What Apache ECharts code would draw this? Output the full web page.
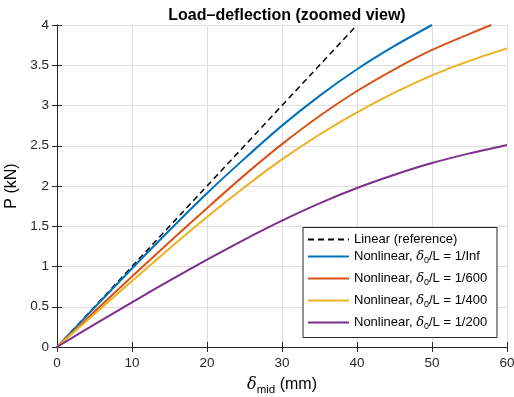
<!DOCTYPE html>
<html><head><meta charset="utf-8">
<script src="https://cdn.jsdelivr.net/npm/echarts@6/dist/echarts.min.js"></script>
<style>html,body{margin:0;padding:0;background:#fff}#c{width:514px;height:397px}</style>
</head><body><div id="c"></div>
<script>
const xs = [0,5,10,15,20,25,30,35,40,45,50,55,60];
const linearX = [0,40];
const linearY = [0,4];
const infY   = [0,0.49,0.975,1.45,1.91,2.34,2.75,3.12,3.45,3.74,4.00];
const r600X  = [0,5,10,15,20,25,30,35,40,45,50,55,57.9];
const r600Y  = [0,0.44,0.875,1.305,1.725,2.135,2.52,2.87,3.18,3.45,3.69,3.89,4.00];
const r400Y  = [0,0.41,0.82,1.225,1.615,1.985,2.33,2.64,2.915,3.16,3.375,3.555,3.71];
const r200Y  = [0,0.28,0.555,0.825,1.085,1.335,1.57,1.785,1.975,2.14,2.285,2.405,2.51];
const xTicks = [0,10,20,30,40,50,60];
const yTicks = [0,0.5,1,1.5,2,2.5,3,3.5,4];
const names = ['Linear (reference)','Nonlinear, δ0/L = 1/Inf','Nonlinear, δ0/L = 1/600','Nonlinear, δ0/L = 1/400','Nonlinear, δ0/L = 1/200'];
const colors = ['#000000','#0072BD','#D95319','#EDB120','#7E2F8E'];

const pair = (X, Y) => Y.map((v,i)=>[X[i], v]);
const FONT = 'Liberation Sans';
const axisColor = '#262626';
const rich = {
  d:{fontFamily:'DejaVu Serif', fontStyle:'italic', fontSize:13, color:'#000'},
  s:{fontFamily:FONT, fontSize:9, color:'#000', padding:[9,0,0,0]},
  t:{fontFamily:FONT, fontSize:13, color:'#000'}
};
const richBig = {
  d:{fontFamily:'DejaVu Serif', fontStyle:'italic', fontSize:16, color:'#000'},
  s:{fontFamily:FONT, fontSize:11.5, color:'#000', padding:[11,0,0,0]},
  t:{fontFamily:FONT, fontSize:16, color:'#000'}
};
function fmt(n){
  const m = n.match(/^(.*)δ0(.*)$/);
  if(!m) return '{t|'+n+'}';
  return '{t|'+m[1]+'}{d|δ}{s|0}{t|'+m[2]+'}';
}
const rowsTop = [233, 250, 272, 294, 316];
const legends = names.map((n,i)=>({
  data:[n], left:307, top:rowsTop[i], padding:0, itemWidth:41, itemHeight:14, itemGap:4,
  itemStyle:{color:'rgba(0,0,0,0)', borderColor:'rgba(0,0,0,0)', borderWidth:0, opacity:0},
  formatter: fmt, textStyle:{rich:rich, fontFamily:FONT, fontSize:13, color:'#000'}, z:10
}));

const baseAxis = {
  axisLine:{show:true, lineStyle:{color:axisColor, width:1}},
  axisTick:{show:true, inside:true, length:5, lineStyle:{color:axisColor}},
};
const series = [
  {name:names[0], type:'line', data:pair(linearX,linearY), symbol:'none', lineStyle:{color:colors[0], width:1.5, type:[6,4]}, itemStyle:{color:colors[0]}},
  {name:names[1], type:'line', data:pair(xs,infY), smooth:0.3, symbol:'none', lineStyle:{color:colors[1], width:2}, itemStyle:{color:colors[1]}},
  {name:names[2], type:'line', data:pair(r600X,r600Y), smooth:0.3, symbol:'none', lineStyle:{color:colors[2], width:2}, itemStyle:{color:colors[2]}},
  {name:names[3], type:'line', data:pair(xs,r400Y), smooth:0.3, symbol:'none', lineStyle:{color:colors[3], width:2}, itemStyle:{color:colors[3]}},
  {name:names[4], type:'line', data:pair(xs,r200Y), smooth:0.3, symbol:'none', lineStyle:{color:colors[4], width:2}, itemStyle:{color:colors[4]}}
];
series.forEach(s=>{s.clip=true; s.animation=false;});

const chart = echarts.init(document.getElementById('c'), null, {renderer:'canvas'});
chart.setOption({
  animation:false,
  backgroundColor:'#fff',
  title:{text:'Load–deflection (zoomed view)', left:282, textAlign:'center', top:3,
    textStyle:{fontFamily:FONT, fontWeight:'bold', fontSize:16, color:'#000'}},
  grid:{left:57, right:7, top:25, bottom:50, containLabel:false, outerBoundsMode:'none'},
  legend: legends,
  graphic:[{type:'rect', shape:{x:303, y:227.5, width:194, height:110}, style:{fill:'#fff', stroke:'#262626', lineWidth:1}, z:5}],
  xAxis:[
    Object.assign({}, baseAxis, {type:'value', min:0, max:60, interval:10, position:'bottom',
      axisLabel:{fontFamily:FONT, fontSize:13.5, color:'#262626', margin:9, formatter:v=>xTicks.includes(v)?String(v):''},
      splitLine:{show:true, lineStyle:{color:'#dfdfdf', width:1}},
      name:'{d|δ}{s|mid}{t| (mm)}', nameLocation:'middle', nameGap:26,
      nameTextStyle:{rich:richBig}}),
    Object.assign({}, baseAxis, {type:'value', min:0, max:60, interval:10, position:'top',
      axisLabel:{show:false}, splitLine:{show:false}})
  ],
  yAxis:[
    Object.assign({}, baseAxis, {type:'value', min:0, max:4, interval:0.5, position:'left',
      axisLabel:{fontFamily:FONT, fontSize:13.5, color:'#262626', margin:8, formatter:v=>yTicks.includes(v)?String(v):''},
      splitLine:{show:true, lineStyle:{color:'#dfdfdf', width:1}},
      name:'P (kN)', nameLocation:'middle', nameGap:33,
      nameTextStyle:{fontFamily:FONT, fontSize:16, color:'#000'}}),
    Object.assign({}, baseAxis, {type:'value', min:0, max:4, interval:0.5, position:'right',
      axisLabel:{show:false}, splitLine:{show:false}})
  ],
  series: series
});
</script></body></html>
